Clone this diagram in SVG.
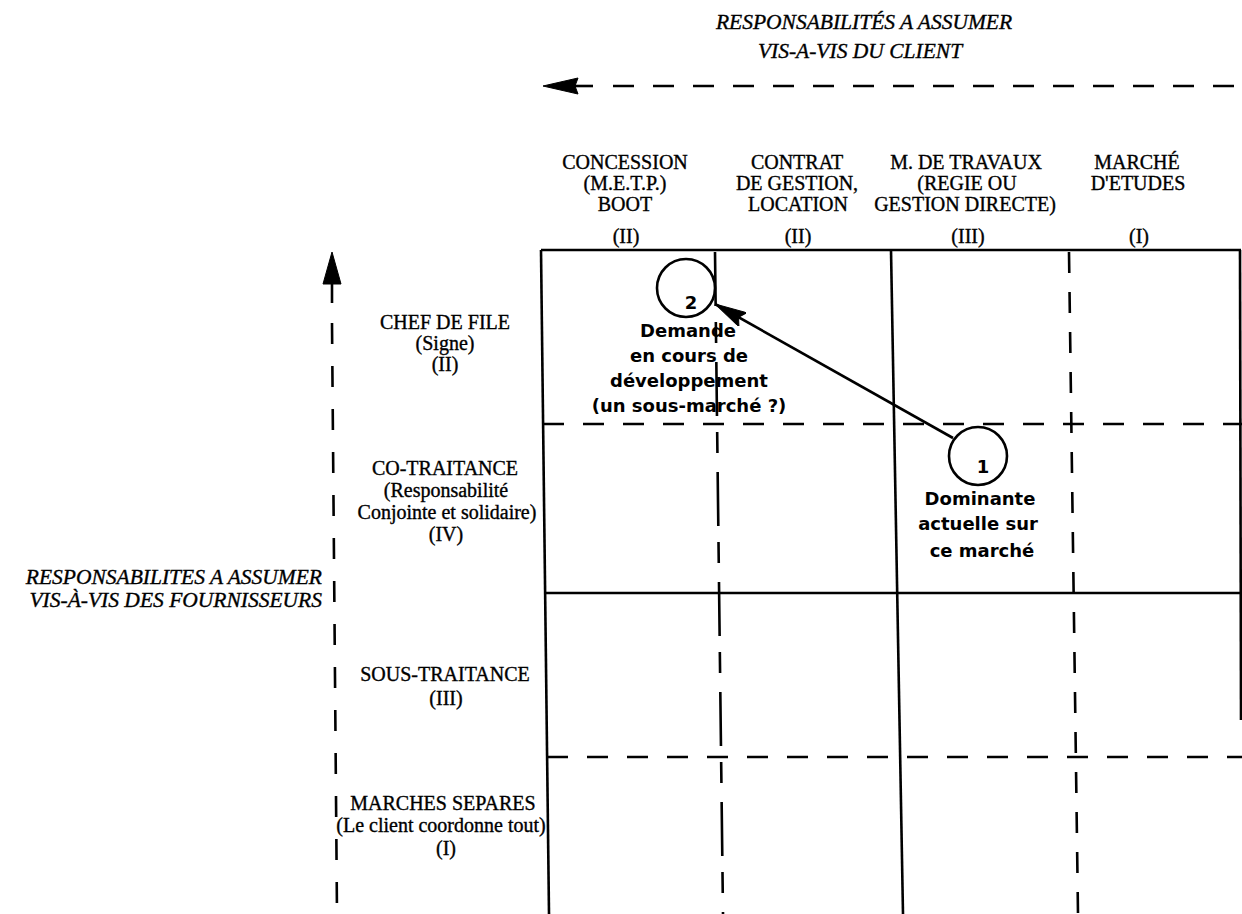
<svg xmlns="http://www.w3.org/2000/svg" width="1242" height="914" viewBox="0 0 1242 914">
  <style>
    .ln { stroke: #000; stroke-width: 2.6; fill: none; stroke-linecap: butt; }
    .dash { stroke-dasharray: 21 19; }
    .adash { stroke-dasharray: 21 22; }
    .serif { font-family: "Liberation Serif", "Times New Roman", serif; font-size: 20px; text-anchor: middle; fill: #000; stroke: #000; stroke-width: 0.35; }
    .ital { font-family: "Liberation Serif", "Times New Roman", serif; font-style: italic; font-size: 21.5px; fill: #000; stroke: #000; stroke-width: 0.35; }
    .sans { font-family: "DejaVu Sans", Verdana, sans-serif; font-weight: bold; font-size: 18px; text-anchor: middle; fill: #000; }
    .head { fill: #000; stroke: #000; stroke-width: 1; stroke-linejoin: miter; }
  </style>
  <defs>
    <marker id="tip" viewBox="0 0 32 16" refX="32" refY="8" markerWidth="32" markerHeight="16" markerUnits="userSpaceOnUse" orient="auto">
      <path d="M0,0 L32,8 L0,16 L5,8 Z" class="head"/>
    </marker>
  </defs>

  <rect width="1242" height="914" fill="#fff"/>

  <!-- horizontal axis: responsibilities towards the client -->
  <g id="axis-client">
    <text class="ital" x="864" y="29" text-anchor="middle">RESPONSABILITÉS  A ASSUMER</text>
    <text class="ital" x="860" y="58" text-anchor="middle">VIS-A-VIS DU CLIENT</text>
    <polygon class="head" points="543,86 578,78 575,86 578,94"/>
    <line class="ln" x1="572" y1="86" x2="593" y2="86"/>
    <line class="ln dash" x1="613" y1="86" x2="1242" y2="86"/>
  </g>

  <!-- vertical axis: responsibilities towards suppliers -->
  <g id="axis-suppliers">
    <polygon class="head" points="332,252 323,284 341,284"/>
    <line class="ln" x1="332" y1="282" x2="332" y2="303"/>
    <line class="ln adash" x1="332" y1="323" x2="337" y2="914"/>
    <text class="ital" x="322" y="584" text-anchor="end">RESPONSABILITES A ASSUMER</text>
    <text class="ital" x="322" y="607" text-anchor="end">VIS-À-VIS DES FOURNISSEURS</text>
  </g>

  <!-- column headers -->
  <g id="col-concession">
    <text class="serif" x="625" y="169">CONCESSION</text>
    <text class="serif" x="625" y="190">(M.E.T.P.)</text>
    <text class="serif" x="625" y="211">BOOT</text>
    <text class="serif" x="626" y="243">(II)</text>
  </g>
  <g id="col-contrat">
    <text class="serif" x="797" y="169">CONTRAT</text>
    <text class="serif" x="797" y="190">DE GESTION,</text>
    <text class="serif" x="798" y="211">LOCATION</text>
    <text class="serif" x="798" y="243">(II)</text>
  </g>
  <g id="col-travaux">
    <text class="serif" x="966" y="169">M. DE TRAVAUX</text>
    <text class="serif" x="967" y="190">(REGIE OU</text>
    <text class="serif" x="965" y="211">GESTION DIRECTE)</text>
    <text class="serif" x="968" y="243">(III)</text>
  </g>
  <g id="col-etudes">
    <text class="serif" x="1137" y="169">MARCHÉ</text>
    <text class="serif" x="1138" y="190">D'ETUDES</text>
    <text class="serif" x="1139" y="243">(I)</text>
  </g>

  <!-- row headers -->
  <g id="row-chef">
    <text class="serif" x="445" y="329">CHEF DE FILE</text>
    <text class="serif" x="445" y="350">(Signe)</text>
    <text class="serif" x="445" y="371">(II)</text>
  </g>
  <g id="row-cotraitance">
    <text class="serif" x="445" y="475">CO-TRAITANCE</text>
    <text class="serif" x="446" y="497">(Responsabilité</text>
    <text class="serif" x="447" y="519">Conjointe et solidaire)</text>
    <text class="serif" x="446" y="541">(IV)</text>
  </g>
  <g id="row-soustraitance">
    <text class="serif" x="445" y="681">SOUS-TRAITANCE</text>
    <text class="serif" x="446" y="705">(III)</text>
  </g>
  <g id="row-separes">
    <text class="serif" x="443" y="810">MARCHES SEPARES</text>
    <text class="serif" x="441" y="832">(Le client coordonne tout)</text>
    <text class="serif" x="446" y="855">(I)</text>
  </g>

  <!-- matrix grid -->
  <g id="grid">
    <line class="ln" x1="541" y1="250" x2="1241" y2="250"/>
    <line class="ln" x1="541" y1="250" x2="549" y2="914"/>
    <line class="ln" x1="891" y1="250" x2="903" y2="914"/>
    <line class="ln" x1="1240" y1="250" x2="1241" y2="720"/>
    <line class="ln" x1="715" y1="252" x2="723" y2="914" style="stroke-dasharray:54 16 21 19"/>
    <line class="ln dash" x1="1069" y1="252" x2="1078" y2="914"/>
    <line class="ln dash" x1="543" y1="424" x2="1242" y2="424"/>
    <line class="ln" x1="545" y1="593" x2="1241" y2="593"/>
    <line class="ln dash" x1="547" y1="757" x2="1242" y2="757"/>
  </g>

  <!-- position 2: demand under development -->
  <g id="pos-2">
    <circle class="ln" cx="686" cy="288" r="29"/>
    <text class="sans" x="691" y="309">2</text>
    <text class="sans" x="688" y="337">Demande</text>
    <text class="sans" x="689" y="362">en cours de</text>
    <text class="sans" x="689" y="387">développement</text>
    <text class="sans" x="689" y="412">(un sous-marché ?)</text>
  </g>

  <!-- position 1: current dominant position -->
  <g id="pos-1">
    <circle class="ln" cx="978" cy="456" r="29"/>
    <text class="sans" x="983" y="473">1</text>
    <text class="sans" x="980" y="505">Dominante</text>
    <text class="sans" x="978" y="530">actuelle sur</text>
    <text class="sans" x="982" y="557">ce marché</text>
  </g>

  <!-- connector from position 1 to position 2 -->
  <g id="connectors">
    <line class="ln" x1="953" y1="438" x2="715" y2="304" marker-end="url(#tip)"/>
  </g>
</svg>
